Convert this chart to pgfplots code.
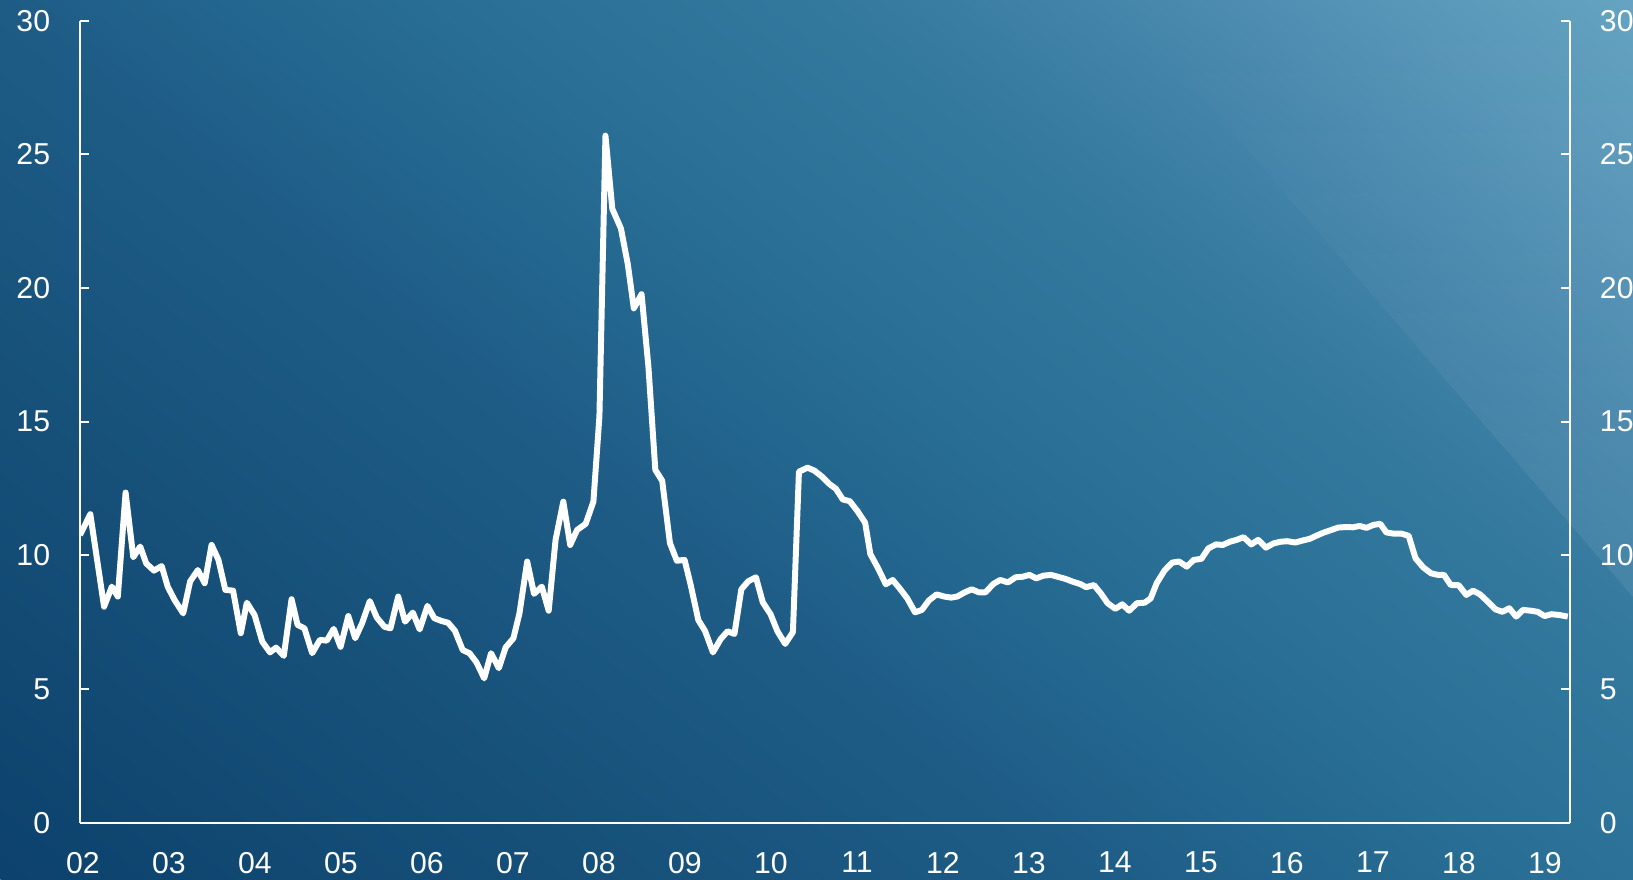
\documentclass[border=0pt]{standalone}
\usepackage{fontspec}
\setmainfont{Liberation Sans}
\usepackage{pgfplots}
\usepackage{pgfplotstable}
\usetikzlibrary{fadings}
\pgfplotsset{compat=1.18}

\definecolor{bg0}{HTML}{0C426D}
\definecolor{bg1}{HTML}{165079}
\definecolor{bg2}{HTML}{1E5C86}
\definecolor{bg3}{HTML}{246890}
\definecolor{bg4}{HTML}{2C7298}
\definecolor{bg5}{HTML}{33789D}
\definecolor{bg6}{HTML}{4283A9}
\definecolor{bg7}{HTML}{5896B8}
\definecolor{bg8}{HTML}{66A4C2}
\pgfdeclarehorizontalshading{bglin}{560bp}{color(0bp)=(bg0); color(106bp)=(bg1); color(195bp)=(bg2); color(243bp)=(bg3); color(290bp)=(bg4); color(340bp)=(bg5); color(384bp)=(bg6); color(440bp)=(bg7); color(486bp)=(bg8); color(500bp)=(bg8)}

\pgfplotstableread{
x y
2002.00 10.76
2002.12 11.54
2002.28 8.08
2002.37 8.83
2002.44 8.46
2002.53 12.35
2002.62 9.93
2002.70 10.33
2002.77 9.70
2002.86 9.43
2002.95 9.60
2003.02 8.83
2003.10 8.33
2003.20 7.83
2003.28 9.02
2003.37 9.45
2003.45 8.96
2003.53 10.39
2003.61 9.83
2003.69 8.71
2003.78 8.68
2003.87 7.09
2003.94 8.23
2004.03 7.77
2004.12 6.77
2004.21 6.37
2004.28 6.55
2004.37 6.24
2004.46 8.36
2004.53 7.40
2004.61 7.27
2004.70 6.34
2004.79 6.84
2004.87 6.81
2004.95 7.25
2005.03 6.58
2005.12 7.73
2005.20 6.90
2005.28 7.46
2005.37 8.29
2005.45 7.68
2005.54 7.33
2005.61 7.27
2005.70 8.46
2005.78 7.52
2005.87 7.86
2005.95 7.23
2006.04 8.11
2006.12 7.65
2006.20 7.55
2006.28 7.48
2006.36 7.18
2006.45 6.46
2006.53 6.34
2006.61 6.00
2006.70 5.40
2006.78 6.34
2006.87 5.78
2006.95 6.56
2007.04 6.90
2007.11 7.83
2007.20 9.77
2007.28 8.56
2007.37 8.83
2007.45 7.93
2007.53 10.58
2007.62 12.01
2007.70 10.39
2007.78 10.95
2007.88 11.18
2007.97 12.01
2008.04 15.20
2008.11 25.70
2008.19 22.96
2008.29 22.23
2008.37 20.89
2008.44 19.24
2008.53 19.77
2008.61 17.05
2008.69 13.20
2008.77 12.79
2008.86 10.46
2008.94 9.80
2009.03 9.83
2009.10 8.91
2009.19 7.58
2009.27 7.16
2009.36 6.37
2009.45 6.87
2009.53 7.16
2009.61 7.06
2009.69 8.73
2009.77 9.03
2009.86 9.18
2009.94 8.24
2010.03 7.80
2010.11 7.16
2010.20 6.69
2010.29 7.13
2010.36 13.13
2010.46 13.28
2010.54 13.17
2010.63 12.94
2010.71 12.68
2010.79 12.49
2010.87 12.09
2010.95 12.03
2011.04 11.66
2011.13 11.22
2011.19 10.05
2011.28 9.52
2011.37 8.92
2011.45 9.08
2011.53 8.77
2011.62 8.39
2011.71 7.87
2011.79 7.96
2011.87 8.31
2011.96 8.54
2012.05 8.46
2012.13 8.42
2012.20 8.46
2012.29 8.62
2012.37 8.73
2012.45 8.62
2012.53 8.62
2012.62 8.93
2012.70 9.08
2012.79 8.99
2012.88 9.18
2012.96 9.20
2013.04 9.27
2013.12 9.14
2013.20 9.24
2013.29 9.27
2013.37 9.20
2013.46 9.12
2013.54 9.02
2013.63 8.93
2013.70 8.81
2013.79 8.89
2013.87 8.58
2013.95 8.21
2014.04 8.00
2014.12 8.17
2014.20 7.93
2014.29 8.21
2014.38 8.23
2014.45 8.39
2014.52 8.96
2014.61 9.43
2014.70 9.73
2014.78 9.77
2014.87 9.58
2014.95 9.83
2015.04 9.87
2015.12 10.26
2015.21 10.41
2015.29 10.39
2015.37 10.51
2015.45 10.58
2015.53 10.68
2015.62 10.41
2015.70 10.58
2015.79 10.29
2015.88 10.45
2015.96 10.51
2016.04 10.53
2016.13 10.48
2016.21 10.55
2016.30 10.62
2016.38 10.74
2016.46 10.85
2016.55 10.95
2016.63 11.04
2016.72 11.06
2016.80 11.05
2016.88 11.10
2016.96 11.03
2017.04 11.14
2017.12 11.18
2017.19 10.86
2017.28 10.81
2017.37 10.81
2017.45 10.73
2017.53 9.89
2017.62 9.55
2017.71 9.33
2017.79 9.27
2017.86 9.27
2017.94 8.89
2018.03 8.89
2018.12 8.52
2018.20 8.68
2018.28 8.54
2018.37 8.27
2018.46 7.98
2018.54 7.89
2018.62 8.02
2018.70 7.71
2018.78 7.96
2018.87 7.93
2018.95 7.89
2019.03 7.73
2019.11 7.80
2019.20 7.77
2019.30 7.71
}\datatable

\pgfplotsset{
  common/.style={
    scale only axis,
    width=14.90cm, height=8.02cm,
    at={(0.80cm,0.563cm)}, anchor=south west,
    xmin=2002, xmax=2019.326,
    ymin=0, ymax=30,
    ytick={0,5,...,30},
    tick align=inside,
    major tick length=0.09cm,
    axis line style={white, line width=0.6pt},
    every tick/.style={white, line width=0.6pt},
    tick label style={white, font=\fontsize{8.6}{10}\selectfont},
    /pgf/number format/assume math mode=true,
  }
}

\begin{document}
\begin{tikzpicture}
\useasboundingbox (0,0) rectangle (16.33,8.79);
\begin{scope}
\clip (0,0) rectangle (16.33,8.79);
\fill[bg3] (0,0) rectangle (16.33,8.79);
\node[inner sep=0pt, outer sep=0pt, anchor=south west, rotate=51.34] at (296.7bp,-237.4bp) {\pgfuseshading{bglin}};
\fill[white, opacity=0.08, path fading=north] (11.18,8.79) -- (16.33,2.82) -- (16.33,8.79) -- cycle;
\end{scope}

\begin{axis}[common,
  axis x line*=bottom, axis y line*=left,
  xtick={2002,2003,...,2019},
  xticklabels={02,03,04,05,06,07,08,09,10,11,12,13,14,15,16,17,18,19},
  xtick style={draw=none},
  xticklabel style={yshift=-0.17cm, xshift=0.03cm},
  yticklabel style={xshift=-0.175cm},
]
\addplot[white, line width=1.7pt, line join=round, mark=none] table {\datatable};
\end{axis}

\begin{axis}[common,
  axis x line=none, axis y line*=right,
  xtick=\empty,
  yticklabel style={xshift=0.175cm},
]
\end{axis}
\end{tikzpicture}
\end{document}
